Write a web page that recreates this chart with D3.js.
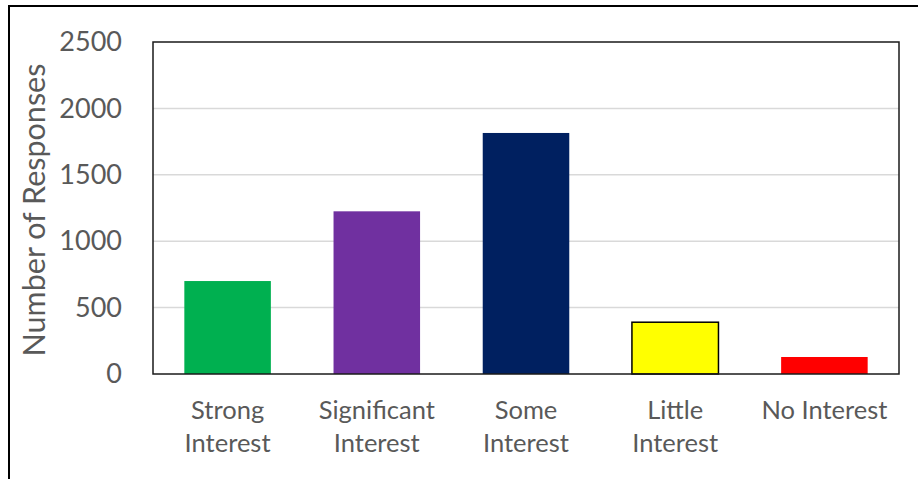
<!DOCTYPE html>
<html>
<head>
<meta charset="utf-8">
<script src="https://cdn.jsdelivr.net/npm/d3@7"></script>
<style>
  body { margin: 0; background: #fff; }
  svg { display: block; font-family: Lato, "Open Sans", sans-serif; }
</style>
</head>
<body>
<svg id="chart" width="918" height="479"></svg>
<script>
const categories = [["Strong", "Interest"], ["Significant", "Interest"], ["Some", "Interest"], ["Little", "Interest"], ["No Interest"]];
const responses = [700, 1225, 1815, 390, 128];
const barColors = ["#00b050", "#7030a0", "#002060", "#ffff00", "#ff0000"];
const barOutline = [false, false, false, true, false];
const yTicks = [0, 500, 1000, 1500, 2000, 2500];

const svg = d3.select("#chart");
const plot = { left: 153, top: 42, right: 899, bottom: 374 };

const x = d3.scaleBand()
  .domain(d3.range(categories.length))
  .range([plot.left, plot.right])
  .paddingInner(0.42)
  .paddingOuter(0.21);

const y = d3.scaleLinear()
  .domain([0, 2500])
  .range([plot.bottom, plot.top]);

// outer chart frame (runs off the right and bottom edges)
svg.append("rect")
  .attr("x", 9).attr("y", 6)
  .attr("width", 1000).attr("height", 1000)
  .attr("fill", "none").attr("stroke", "#000").attr("stroke-width", 2);

// gridlines
svg.append("g")
  .selectAll("line")
  .data(yTicks.filter(d => d > 0 && d < 2500))
  .join("line")
  .attr("x1", plot.left).attr("x2", plot.right)
  .attr("y1", d => y(d)).attr("y2", d => y(d))
  .attr("stroke", "#d9d9d9").attr("stroke-width", 1.5);

// bars
svg.append("g")
  .selectAll("rect")
  .data(responses)
  .join("rect")
  .attr("x", (d, i) => x(i))
  .attr("y", d => y(d))
  .attr("width", x.bandwidth())
  .attr("height", d => y(0) - y(d))
  .attr("fill", (d, i) => barColors[i])
  .attr("stroke", (d, i) => barOutline[i] ? "#000" : "none")
  .attr("stroke-width", 1.5);

// plot frame
svg.append("rect")
  .attr("x", plot.left).attr("y", plot.top)
  .attr("width", plot.right - plot.left)
  .attr("height", plot.bottom - plot.top)
  .attr("fill", "none").attr("stroke", "#1a1a1a").attr("stroke-width", 1.5);

// y axis labels
const yAxis = svg.append("g")
  .attr("transform", `translate(${plot.left},0)`)
  .call(d3.axisLeft(y).tickValues(yTicks).tickFormat(d3.format("d")).tickSize(0).tickPadding(31));
yAxis.select(".domain").remove();
yAxis.selectAll("text")
  .attr("font-family", "Lato, sans-serif")
  .attr("font-size", 27)
  .attr("fill", "#595959");

// category labels
const xLabels = svg.append("g")
  .selectAll("text")
  .data(categories)
  .join("text")
  .attr("x", (d, i) => x(i) + x.bandwidth() / 2)
  .attr("y", 419)
  .attr("text-anchor", "middle")
  .attr("font-size", 25.5)
  .attr("fill", "#595959");
xLabels.selectAll("tspan")
  .data(d => d)
  .join("tspan")
  .attr("x", function () { return this.parentNode.getAttribute("x"); })
  .attr("dy", (d, i) => i === 0 ? 0 : 33)
  .text(d => d);

// y axis title
svg.append("text")
  .attr("transform", `translate(45,${(plot.top + plot.bottom) / 2 + 2}) rotate(-90)`)
  .attr("text-anchor", "middle")
  .attr("font-size", 30.5)
  .attr("fill", "#595959")
  .text("Number of Responses");
</script>
</body>
</html>
